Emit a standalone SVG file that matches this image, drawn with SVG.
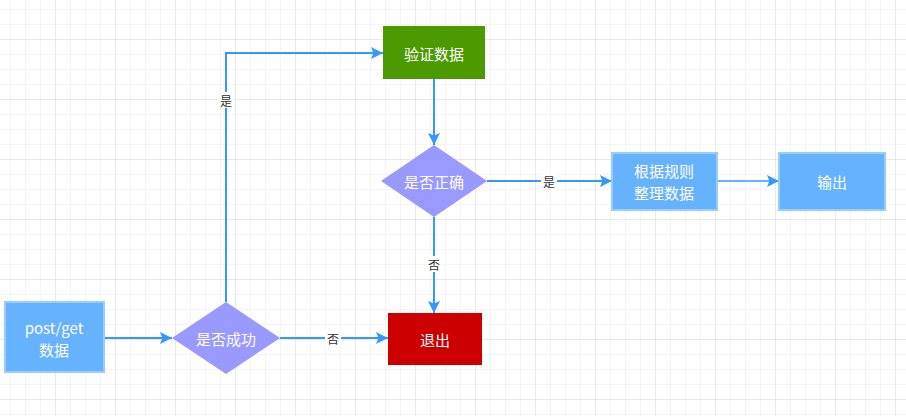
<svg xmlns="http://www.w3.org/2000/svg" width="906" height="416" viewBox="0 0 906 416">
<defs>
<pattern id="minor" width="15" height="15" patternUnits="userSpaceOnUse" x="10" y="9"><path d="M0 0H15M0 0V15" fill="none" stroke="#ececec" stroke-width="1"/></pattern>
<pattern id="major" width="60" height="60" patternUnits="userSpaceOnUse" x="55" y="39"><path d="M0 0H60M0 0V60" fill="none" stroke="#dedede" stroke-width="1"/></pattern>
<marker id="ar" viewBox="0 0 10 10" refX="10" refY="5" markerWidth="12" markerHeight="12" markerUnits="userSpaceOnUse" orient="auto"><path d="M0 0L10 5L0 10L2 5Z" fill="#3399FF"/></marker>
</defs>
<style>
text{font-family:"Noto Sans CJK SC","Liberation Sans",sans-serif;text-anchor:middle;dominant-baseline:central}
.n{fill:#fff;font-size:15px}
.l{fill:#333;font-size:12px}
.e{fill:none;stroke:#3399FF;stroke-width:2}
.lb{fill:#fff}
</style>
<rect width="906" height="416" fill="#fff"/>
<rect width="906" height="416" fill="url(#minor)"/>
<rect width="906" height="416" fill="url(#major)"/>
<g id="connectors">
<path class="e" d="M104 338H172" marker-end="url(#ar)"/>
<path class="e" d="M226 302V53H383" marker-end="url(#ar)"/>
<rect class="lb" x="218" y="92" width="16" height="16"/><text class="l" x="226" y="100">是</text>
<path class="e" d="M280 338H388" marker-end="url(#ar)"/>
<rect class="lb" x="325" y="330" width="16" height="16"/><text class="l" x="333" y="338">否</text>
<path class="e" d="M434 79V145" marker-end="url(#ar)"/>
<path class="e" d="M487 181H612" marker-end="url(#ar)"/>
<rect class="lb" x="541" y="173" width="16" height="16"/><text class="l" x="549" y="181">是</text>
<path class="e" d="M434 217V313" marker-end="url(#ar)"/>
<rect class="lb" x="426" y="256" width="16" height="16"/><text class="l" x="434" y="264">否</text>
<path class="e" d="M717 181H779" stroke="#66B2FF" style="stroke:#66B2FF" marker-end="url(#ar)"/>
</g>
<g id="start"><rect x="5" y="302" width="99" height="70" fill="#66B2FF" stroke="#99CCFF" stroke-width="2"/><text class="n" x="54" y="327">post/get</text><text class="n" x="54" y="349">数据</text></g>
<g id="success"><path d="M226 302L280 338L226 374L172 338Z" fill="#9999FF"/><text class="n" x="226" y="338">是否成功</text></g>
<g id="exit"><rect x="388" y="313" width="94" height="52" fill="#CC0000"/><text class="n" x="435" y="339">退出</text></g>
<g id="verify"><rect x="383" y="26" width="102" height="53" fill="#4D9900"/><text class="n" x="434" y="53">验证数据</text></g>
<g id="correct"><path d="M434 145L487 181L434 217L381 181Z" fill="#9999FF"/><text class="n" x="434" y="181">是否正确</text></g>
<g id="process"><rect x="612" y="153" width="105" height="57" fill="#66B2FF" stroke="#99CCFF" stroke-width="2"/><text class="n" x="664" y="170">根据规则</text><text class="n" x="664" y="192">整理数据</text></g>
<g id="output"><rect x="779" y="153" width="106" height="57" fill="#66B2FF" stroke="#99CCFF" stroke-width="2"/><text class="n" x="832" y="181">输出</text></g>
</svg>
